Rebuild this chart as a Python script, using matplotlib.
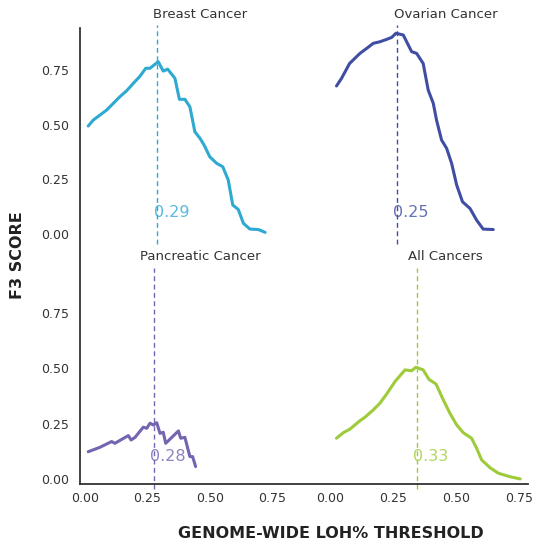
import matplotlib
matplotlib.use("Agg")
import matplotlib.pyplot as plt
from matplotlib.lines import Line2D

# ---------------- data ----------------
breast_x = [0.012, 0.032, 0.059, 0.086, 0.113, 0.139, 0.166, 0.193, 0.22, 0.243, 0.26, 0.293,
            0.313, 0.331, 0.36, 0.378, 0.40, 0.42, 0.44, 0.461, 0.477, 0.50, 0.528, 0.552,
            0.574, 0.592, 0.614, 0.635, 0.661, 0.695, 0.722]
breast_y = [0.494, 0.521, 0.544, 0.567, 0.598, 0.628, 0.655, 0.689, 0.722, 0.758, 0.758, 0.788,
            0.745, 0.754, 0.712, 0.616, 0.616, 0.582, 0.468, 0.437, 0.407, 0.353, 0.323, 0.308,
            0.247, 0.133, 0.113, 0.049, 0.023, 0.021, 0.008]

ovarian_x = [0.026, 0.046, 0.078, 0.119, 0.146, 0.172, 0.198, 0.225, 0.245, 0.262, 0.291, 0.324,
             0.344, 0.37, 0.39, 0.41, 0.423, 0.443, 0.463, 0.483, 0.503, 0.526, 0.556, 0.582,
             0.608, 0.648]
ovarian_y = [0.677, 0.712, 0.78, 0.826, 0.849, 0.872, 0.879, 0.89, 0.899, 0.918, 0.91, 0.834,
             0.826, 0.78, 0.658, 0.598, 0.521, 0.43, 0.392, 0.323, 0.224, 0.148, 0.117, 0.064,
             0.023, 0.021]

pancreatic_x = [0.012, 0.059, 0.106, 0.119, 0.173, 0.184, 0.2, 0.233, 0.247, 0.26, 0.273, 0.287,
                0.30, 0.313, 0.323, 0.374, 0.383, 0.40, 0.42, 0.431, 0.443]
pancreatic_y = [0.123, 0.143, 0.169, 0.161, 0.196, 0.176, 0.188, 0.234, 0.229, 0.252, 0.244, 0.254,
                0.206, 0.211, 0.161, 0.217, 0.184, 0.188, 0.101, 0.101, 0.056]

all_x = [0.026, 0.053, 0.079, 0.119, 0.139, 0.172, 0.198, 0.225, 0.258, 0.298, 0.324, 0.341,
         0.37, 0.393, 0.421, 0.45, 0.476, 0.503, 0.529, 0.562, 0.582, 0.602, 0.635, 0.668,
         0.714, 0.755]
all_y = [0.184, 0.209, 0.225, 0.263, 0.279, 0.312, 0.342, 0.384, 0.44, 0.493, 0.489, 0.505,
         0.493, 0.45, 0.429, 0.357, 0.297, 0.244, 0.209, 0.184, 0.139, 0.086, 0.051, 0.026,
         0.01, 0.0]

titles = ["Breast Cancer", "Ovarian Cancer", "Pancreatic Cancer", "All Cancers"]
thresholds = [0.29, 0.265, 0.275, 0.345]
threshold_labels = ["0.29", "0.25", "0.28", "0.33"]
colors = ["#2ea9d1", "#3f4ea3", "#7564b0", "#9dcb3a"]
xticks = [0.0, 0.25, 0.50, 0.75]
yticks = [0.0, 0.25, 0.50, 0.75]
tick_labels = ["0.00", "0.25", "0.50", "0.75"]

series = [(breast_x, breast_y), (ovarian_x, ovarian_y),
          (pancreatic_x, pancreatic_y), (all_x, all_y)]

# ---------------- figure ----------------
plt.rcParams['font.family'] = ['DejaVu Sans']
fig = plt.figure(figsize=(5.34, 5.44), dpi=100)

W, H = 534.0, 544.0
col_left = [80 / W, 304 / W]
col_w = 224 / W
row_bottom = [1 - 256 / H, 1 - 484 / H]
row_h = 228 / H
xlims = [(-0.021, 0.878), (-0.103, 0.786)]
ylims = [(-0.10, 0.942), (-0.023, 1.008)]

spine_color = "#333333"
text_color = "#333333"

for i in range(4):
    r, c = divmod(i, 2)
    ax = fig.add_axes([col_left[c], row_bottom[r], col_w, row_h])
    xs, ys = series[i]
    ax.plot(xs, ys, color=colors[i], lw=2.2, solid_joinstyle='round', solid_capstyle='round')
    ax.plot([thresholds[i], thresholds[i]], [-0.045, 0.955], color=colors[i], lw=1.0,
            ls=(0, (3.5, 2.5)), clip_on=False)
    ax.text(thresholds[i] - 0.015, 0.10, threshold_labels[i], color=colors[i], alpha=0.8,
            fontsize=11.5, ha='left', va='center')
    ax.text(0.46, 1.005, titles[i], color=text_color, fontsize=9.5, ha='center', va='center')
    ax.set_xlim(*xlims[c])
    ax.set_ylim(*ylims[r])
    ax.set_xticks(xticks)
    ax.set_yticks(yticks)
    ax.tick_params(length=0, labelsize=9, labelcolor=text_color)
    ax.tick_params(axis='y', pad=8)
    ax.tick_params(axis='x', pad=6)
    for s in ['top', 'right', 'left', 'bottom']:
        ax.spines[s].set_visible(False)
    if c == 0:
        ax.set_yticklabels(tick_labels)
    else:
        ax.set_yticklabels([])
    if r == 1:
        ax.set_xticklabels(tick_labels)
    else:
        ax.set_xticklabels([])
    ax.patch.set_alpha(0)

# continuous axis lines across the panels
fig.add_artist(Line2D([80 / W, 80 / W], [1 - 28 / H, 1 - 484 / H], color=spine_color,
                      lw=1.3, solid_capstyle='projecting'))
fig.add_artist(Line2D([80 / W, 528 / W], [1 - 484 / H, 1 - 484 / H], color=spine_color,
                      lw=1.3, solid_capstyle='projecting'))

fig.text(18 / W, 1 - 255 / H, "F3 SCORE", rotation=90, fontsize=11.5, fontweight='bold',
         color="#222222", ha='center', va='center')
fig.text(331 / W, 1 - 533 / H, "GENOME-WIDE LOH% THRESHOLD", fontsize=11.5, fontweight='bold',
         color="#222222", ha='center', va='center')

fig.savefig("out.png", dpi=100)
